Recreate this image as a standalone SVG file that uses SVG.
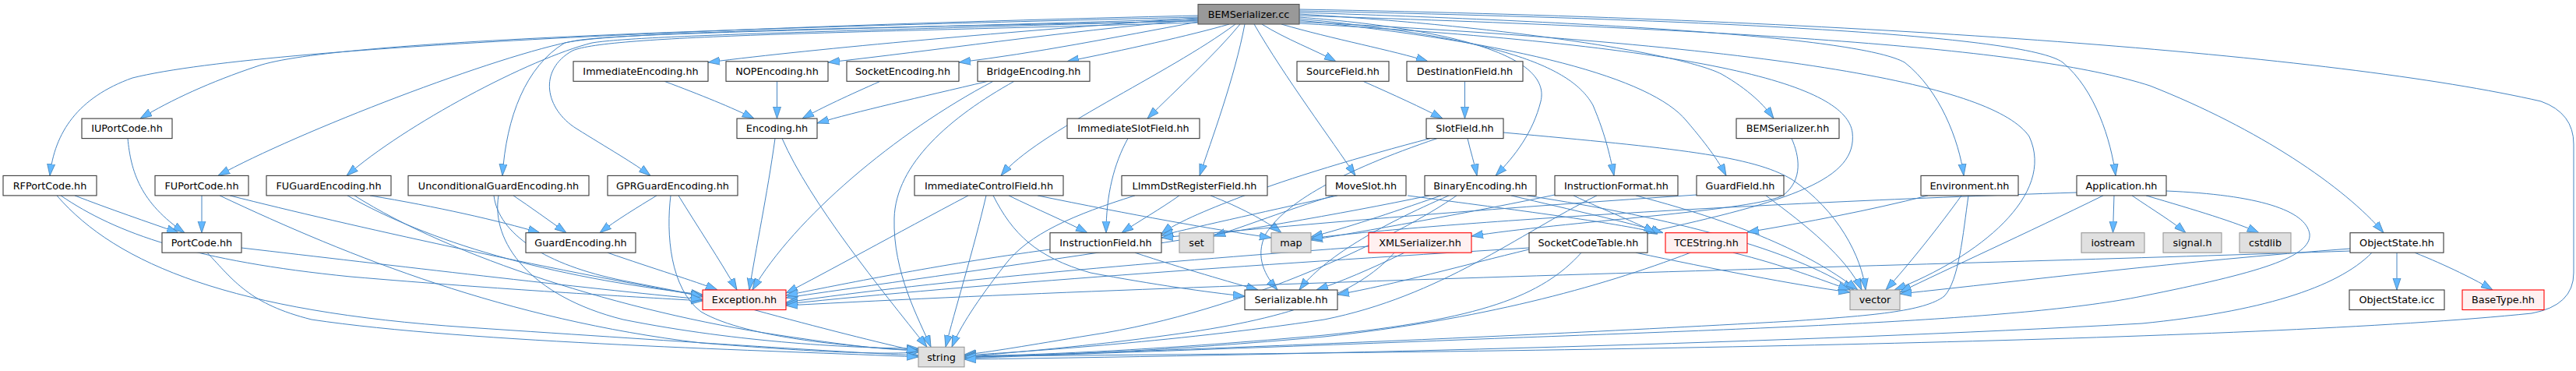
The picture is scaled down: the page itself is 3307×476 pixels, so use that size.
<svg xmlns="http://www.w3.org/2000/svg" width="3307" height="476" viewBox="0 0 3307 476">
<style>
text{font-family:"DejaVu Sans","Liberation Sans",sans-serif;font-size:12.8px;text-anchor:middle;fill:#000}
.node rect{stroke-width:1.1}
.n rect{fill:#ffffff;stroke:#3a3a3a}
.g rect{fill:#e0e0e0;stroke:#999999}
.r rect{fill:#fff0f0;stroke:#ff0000}
.root rect{fill:#999999;stroke:#555555}
#edges path{fill:none;stroke:#4584c2;stroke-width:1;marker-end:url(#ah)}
</style>
<defs>
<marker id="ah" markerUnits="userSpaceOnUse" markerWidth="16" markerHeight="12" refX="15" refY="5.5" orient="auto">
<path d="M0,0.5 L15,5.5 L0,10.5 z" fill="#63b8ff" stroke="#4682b4" stroke-width="0.8"/>
</marker>
</defs>
<rect width="3307" height="476" fill="#ffffff"/>
<g id="edges">
<path d="M1538,20 C1100,30 350,55 170,100 C100,125 70,170 64,225.4"/>
<path d="M1538,22 C1000,35 430,50 330,85 C270,105 220,128 180,152.1"/>
<path d="M1538,24 C1100,38 800,42 740,52 C640,70 380,170 280,225.4"/>
<path d="M1538,26 C1100,40 820,45 760,55 C680,75 520,160 445,225.4"/>
<path d="M1538,27 C1150,35 790,40 725,55 C675,85 650,150 645,225.4"/>
<path d="M1538,29 C1100,42 780,45 735,65 C690,90 700,140 740,165 C780,190 815,210 835,225.4"/>
<path d="M1538,23 C1300,40 1050,62 909,80"/>
<path d="M1538,25 C1350,42 1200,65 1063,80"/>
<path d="M1538,28 C1430,48 1330,68 1231,80"/>
<path d="M1578,31 C1530,45 1440,65 1370,78.8"/>
<path d="M1586,31 C1500,95 1330,170 1285,225.4"/>
<path d="M1592,31 C1560,70 1510,115 1473,152.1"/>
<path d="M1598,31 C1585,100 1555,180 1540,225.4"/>
<path d="M1610,31 C1650,100 1710,180 1740,225.4"/>
<path d="M1620,31 C1650,50 1690,65 1715,78.8"/>
<path d="M1645,31 C1710,50 1790,65 1833,78.8"/>
<path d="M1668,22 C1900,40 1990,80 1978,130 C1968,170 1945,200 1920,225.4"/>
<path d="M1668,24 C1940,50 2020,90 2045,135 C2062,175 2068,205 2072,225.4"/>
<path d="M1668,26 C1950,55 2120,100 2165,155 C2195,190 2208,210 2216,225.4"/>
<path d="M1668,18 C1950,35 2160,70 2210,95 C2245,115 2265,135 2277,152.1"/>
<path d="M1668,16 C2100,30 2390,50 2445,80 C2490,115 2515,180 2521,225.4"/>
<path d="M1668,14 C2200,25 2600,45 2648,80 C2690,115 2710,180 2716,225.4"/>
<path d="M1668,20 C2300,40 2620,65 2760,110 C2900,165 3010,240 3060,298.7"/>
<path d="M1668,12 C2400,25 3000,70 3262,130 Q3304,145 3304,185 L3304,350 Q3304,392 3250,402 C2900,438 2000,452 1238,457"/>
<path d="M1668,28 C2300,60 2560,110 2605,175 C2640,250 2540,330 2432,372"/>
<path d="M1668,30 C2200,60 2370,110 2378,170 C2385,230 2300,258 2112,298.7"/>
<path d="M2300,177.6 C2310,200 2315,230 2290,250 C2260,270 2000,285 1889,303"/>
<path d="M853,104.3 C900,122 940,138 968,152.1"/>
<path d="M997.5,104.3 L997.5,152.1"/>
<path d="M1130,104.3 C1090,122 1055,138 1030,152.1"/>
<path d="M1268,104.3 C1180,125 1100,143 1049,158"/>
<path d="M1275,104.3 C1150,170 1020,280 966,372"/>
<path d="M1302,104.3 C1220,150 1150,210 1148,280 C1146,350 1180,410 1195,445.3"/>
<path d="M1750,104.3 C1790,122 1825,138 1852,152.1"/>
<path d="M1880.5,104.3 L1880.5,152.1"/>
<path d="M164,177.6 C168,220 180,260 237,298.7"/>
<path d="M995,177.6 C985,250 970,320 962,372"/>
<path d="M1004,177.6 C1040,260 1130,370 1190,445.3"/>
<path d="M1448,177.6 C1430,210 1420,250 1420,298.7"/>
<path d="M1884,177.6 C1888,195 1893,210 1896,225.4"/>
<path d="M1836,177.6 C1750,200 1650,230 1600,250 C1560,265 1510,285 1491,300"/>
<path d="M1930,170 C2150,190 2250,200 2300,230 C2360,270 2390,330 2395,372"/>
<path d="M1845,177.6 C1720,220 1650,260 1625,300 C1610,330 1625,355 1640,372"/>
<path d="M96,250.9 C140,268 190,285 229,298.7"/>
<path d="M78,250.9 C150,300 250,335 450,355 C650,372 800,380 902,386"/>
<path d="M73,250.9 C150,340 300,400 600,420 C900,440 1100,453 1179,456"/>
<path d="M259,250.9 L259,298.7"/>
<path d="M295,250.9 C450,290 700,345 902,380"/>
<path d="M282,250.9 C450,330 650,410 900,440 C1050,452 1130,455 1179,452"/>
<path d="M475,250.9 C560,265 640,283 693,298.7"/>
<path d="M446,250.9 C550,310 700,355 902,378"/>
<path d="M455,250.9 C580,330 800,400 1000,430 C1100,445 1150,450 1179,449"/>
<path d="M659,250.9 C680,265 705,283 727,298.7"/>
<path d="M634,250.9 C640,300 700,340 800,360 C850,370 880,375 902,381"/>
<path d="M640,250.9 C630,310 680,380 800,410 C950,440 1100,447 1179,447"/>
<path d="M843,250.9 C820,265 790,283 770,298.7"/>
<path d="M871,250.9 C895,290 925,335 946,372"/>
<path d="M861,250.9 C855,300 860,370 900,400 C960,435 1100,445 1179,450"/>
<path d="M1295,250.9 C1330,268 1370,285 1396,298.7"/>
<path d="M1243,250.9 C1150,300 1060,350 1009,376"/>
<path d="M1266,250.9 C1250,320 1225,400 1214,445.3"/>
<path d="M1275,250.9 C1300,300 1330,330 1400,350 C1480,365 1550,375 1598,380"/>
<path d="M1332,250.9 C1450,275 1560,295 1632,305"/>
<path d="M1514,250.9 C1490,268 1460,285 1440,298.7"/>
<path d="M1457,250.9 C1380,275 1320,300 1290,340 C1255,385 1232,420 1222,445.3"/>
<path d="M1554,250.9 C1590,265 1625,283 1645,298.7"/>
<path d="M1717,250.9 C1640,268 1540,290 1491,302"/>
<path d="M1807,250.9 C1950,270 2070,285 2128,298.7"/>
<path d="M1712,250.9 C1650,270 1600,290 1558,303"/>
<path d="M1860,250.9 C1770,290 1700,330 1668,372"/>
<path d="M1850,250.9 C1780,275 1730,292 1683,304"/>
<path d="M1940,250.9 C2020,270 2090,285 2135,298.7"/>
<path d="M1960,250.9 C2150,280 2300,320 2380,372"/>
<path d="M1870,250.9 C1800,300 1600,400 1400,430 C1320,443 1270,452 1238,455"/>
<path d="M1835,250.9 C1600,300 1300,340 1009,382"/>
<path d="M1996,250 C1900,270 1780,292 1683,308"/>
<path d="M2050,250.9 C1950,300 1850,380 1700,410 C1500,440 1300,452 1238,456"/>
<path d="M2100,250.9 C2250,290 2330,330 2385,372"/>
<path d="M2020,250.9 C2060,270 2100,285 2125,298.7"/>
<path d="M2178,250 C1950,265 1700,285 1491,305"/>
<path d="M2267,250.9 C2320,290 2370,330 2390,372"/>
<path d="M2518,250.9 C2490,290 2450,340 2421,372"/>
<path d="M2527,250.9 C2520,300 2515,360 2496,380 C2470,400 2400,405 2300,412 C1800,440 1400,452 1238,459"/>
<path d="M2475,250.9 C2400,270 2320,285 2243,298"/>
<path d="M2700,250.9 C2600,300 2500,345 2439,375"/>
<path d="M2714,250.9 L2712.5,298.7"/>
<path d="M2737,250.9 C2765,270 2790,285 2806,298.7"/>
<path d="M2755,250.9 C2820,270 2870,285 2900,298.7"/>
<path d="M2666,247 C2200,262 1800,290 1683,306"/>
<path d="M2781,245 C2900,250 2960,270 2965,300 C2968,330 2900,350 2750,380 C2600,410 2300,420 1900,435 C1600,447 1350,455 1238,460"/>
<path d="M310,318 C500,340 750,370 902,384"/>
<path d="M266,324.2 C300,360 320,390 400,410 C600,440 1000,450 1179,458"/>
<path d="M780,324.2 C840,345 890,360 921,372"/>
<path d="M1457,324.2 C1520,345 1580,362 1615,372"/>
<path d="M1348,320 C1200,340 1080,365 1009,379"/>
<path d="M1757,316 C1500,335 1200,360 1009,388"/>
<path d="M1803,324.2 C1760,345 1720,362 1690,372"/>
<path d="M1790,324.2 C1740,380 1650,410 1500,430 C1400,444 1300,452 1238,458"/>
<path d="M1963,320 C1880,340 1790,365 1717,378"/>
<path d="M2100,324.2 C2200,345 2300,365 2375,375"/>
<path d="M2030,324.2 C1980,380 1900,410 1700,430 C1500,448 1350,455 1238,457"/>
<path d="M1963,318 C1600,340 1250,365 1009,390"/>
<path d="M2170,324.2 C2050,370 1900,410 1700,432 C1500,450 1350,456 1238,458"/>
<path d="M2225,324.2 C2290,340 2340,360 2375,372"/>
<path d="M3077,324.2 L3077,372"/>
<path d="M3100,324.2 C3140,340 3180,360 3200,372"/>
<path d="M3045,324.2 C3000,370 2900,400 2750,415 C2300,440 1700,455 1238,461"/>
<path d="M3017,319 C2800,335 2600,360 2439,377"/>
<path d="M3017,322 C2500,340 1600,360 1009,392"/>
<path d="M968,397.5 C1050,420 1130,440 1179,451"/>
</g>
<g id="node-cc" class="node root"><rect x="1538" y="5.5" width="130" height="25.5"/><text x="1603" y="22.8">BEMSerializer.cc</text></g>
<g id="node-ImmediateEncoding" class="node n"><rect x="736" y="78.8" width="173" height="25.5"/><text x="822.5" y="96.1">ImmediateEncoding.hh</text></g>
<g id="node-NOPEncoding" class="node n"><rect x="932" y="78.8" width="131" height="25.5"/><text x="997.5" y="96.1">NOPEncoding.hh</text></g>
<g id="node-SocketEncoding" class="node n"><rect x="1087" y="78.8" width="144" height="25.5"/><text x="1159" y="96.1">SocketEncoding.hh</text></g>
<g id="node-BridgeEncoding" class="node n"><rect x="1255" y="78.8" width="144" height="25.5"/><text x="1327" y="96.1">BridgeEncoding.hh</text></g>
<g id="node-SourceField" class="node n"><rect x="1665" y="78.8" width="118" height="25.5"/><text x="1724" y="96.1">SourceField.hh</text></g>
<g id="node-DestinationField" class="node n"><rect x="1806" y="78.8" width="149" height="25.5"/><text x="1880.5" y="96.1">DestinationField.hh</text></g>
<g id="node-IUPortCode" class="node n"><rect x="105" y="152.1" width="116" height="25.5"/><text x="163" y="169.4">IUPortCode.hh</text></g>
<g id="node-Encoding" class="node n"><rect x="946" y="152.1" width="103" height="25.5"/><text x="997.5" y="169.4">Encoding.hh</text></g>
<g id="node-ImmediateSlotField" class="node n"><rect x="1370" y="152.1" width="170" height="25.5"/><text x="1455" y="169.4">ImmediateSlotField.hh</text></g>
<g id="node-SlotField" class="node n"><rect x="1831" y="152.1" width="99" height="25.5"/><text x="1880.5" y="169.4">SlotField.hh</text></g>
<g id="node-BEMSerializerHH" class="node n"><rect x="2229" y="152.1" width="132" height="25.5"/><text x="2295" y="169.4">BEMSerializer.hh</text></g>
<g id="node-RFPortCode" class="node n"><rect x="4" y="225.4" width="120" height="25.5"/><text x="64" y="242.7">RFPortCode.hh</text></g>
<g id="node-FUPortCode" class="node n"><rect x="199" y="225.4" width="120" height="25.5"/><text x="259" y="242.7">FUPortCode.hh</text></g>
<g id="node-FUGuardEncoding" class="node n"><rect x="342" y="225.4" width="160" height="25.5"/><text x="422" y="242.7">FUGuardEncoding.hh</text></g>
<g id="node-UnconditionalGuardEncoding" class="node n"><rect x="524" y="225.4" width="232" height="25.5"/><text x="640" y="242.7">UnconditionalGuardEncoding.hh</text></g>
<g id="node-GPRGuardEncoding" class="node n"><rect x="780" y="225.4" width="167" height="25.5"/><text x="863.5" y="242.7">GPRGuardEncoding.hh</text></g>
<g id="node-ImmediateControlField" class="node n"><rect x="1174" y="225.4" width="191" height="25.5"/><text x="1269.5" y="242.7">ImmediateControlField.hh</text></g>
<g id="node-LImmDstRegisterField" class="node n"><rect x="1440" y="225.4" width="187" height="25.5"/><text x="1533.5" y="242.7">LImmDstRegisterField.hh</text></g>
<g id="node-MoveSlot" class="node n"><rect x="1702" y="225.4" width="103" height="25.5"/><text x="1753.5" y="242.7">MoveSlot.hh</text></g>
<g id="node-BinaryEncoding" class="node n"><rect x="1829" y="225.4" width="143" height="25.5"/><text x="1900.5" y="242.7">BinaryEncoding.hh</text></g>
<g id="node-InstructionFormat" class="node n"><rect x="1996" y="225.4" width="158" height="25.5"/><text x="2075" y="242.7">InstructionFormat.hh</text></g>
<g id="node-GuardField" class="node n"><rect x="2178" y="225.4" width="112" height="25.5"/><text x="2234" y="242.7">GuardField.hh</text></g>
<g id="node-Environment" class="node n"><rect x="2466" y="225.4" width="125" height="25.5"/><text x="2528.5" y="242.7">Environment.hh</text></g>
<g id="node-Application" class="node n"><rect x="2666" y="225.4" width="115" height="25.5"/><text x="2723.5" y="242.7">Application.hh</text></g>
<g id="node-PortCode" class="node n"><rect x="208" y="298.7" width="102" height="25.5"/><text x="259" y="316">PortCode.hh</text></g>
<g id="node-GuardEncoding" class="node n"><rect x="675" y="298.7" width="141" height="25.5"/><text x="745.5" y="316">GuardEncoding.hh</text></g>
<g id="node-InstructionField" class="node n"><rect x="1348" y="298.7" width="143" height="25.5"/><text x="1419.5" y="316">InstructionField.hh</text></g>
<g id="node-set" class="node g"><rect x="1514" y="298.7" width="44" height="25.5"/><text x="1536" y="316">set</text></g>
<g id="node-map" class="node g"><rect x="1632" y="298.7" width="51" height="25.5"/><text x="1657.5" y="316">map</text></g>
<g id="node-XMLSerializer" class="node r"><rect x="1757" y="298.7" width="132" height="25.5"/><text x="1823" y="316">XMLSerializer.hh</text></g>
<g id="node-SocketCodeTable" class="node n"><rect x="1963" y="298.7" width="152" height="25.5"/><text x="2039" y="316">SocketCodeTable.hh</text></g>
<g id="node-TCEString" class="node r"><rect x="2138" y="298.7" width="105" height="25.5"/><text x="2190.5" y="316">TCEString.hh</text></g>
<g id="node-iostream" class="node g"><rect x="2672" y="298.7" width="81" height="25.5"/><text x="2712.5" y="316">iostream</text></g>
<g id="node-signal" class="node g"><rect x="2777" y="298.7" width="75" height="25.5"/><text x="2814.5" y="316">signal.h</text></g>
<g id="node-cstdlib" class="node g"><rect x="2875" y="298.7" width="66" height="25.5"/><text x="2908" y="316">cstdlib</text></g>
<g id="node-ObjectState" class="node n"><rect x="3017" y="298.7" width="120" height="25.5"/><text x="3077" y="316">ObjectState.hh</text></g>
<g id="node-Exception" class="node r"><rect x="902" y="372" width="107" height="25.5"/><text x="955.5" y="389.3">Exception.hh</text></g>
<g id="node-Serializable" class="node n"><rect x="1598" y="372" width="119" height="25.5"/><text x="1657.5" y="389.3">Serializable.hh</text></g>
<g id="node-vector" class="node g"><rect x="2375" y="372" width="64" height="25.5"/><text x="2407" y="389.3">vector</text></g>
<g id="node-ObjectStateIcc" class="node n"><rect x="3016" y="372" width="122" height="25.5"/><text x="3077" y="389.3">ObjectState.icc</text></g>
<g id="node-BaseType" class="node r"><rect x="3161" y="372" width="105" height="25.5"/><text x="3213.5" y="389.3">BaseType.hh</text></g>
<g id="node-string" class="node g"><rect x="1179" y="445.3" width="59" height="25.5"/><text x="1208.5" y="462.6">string</text></g>
</svg>
